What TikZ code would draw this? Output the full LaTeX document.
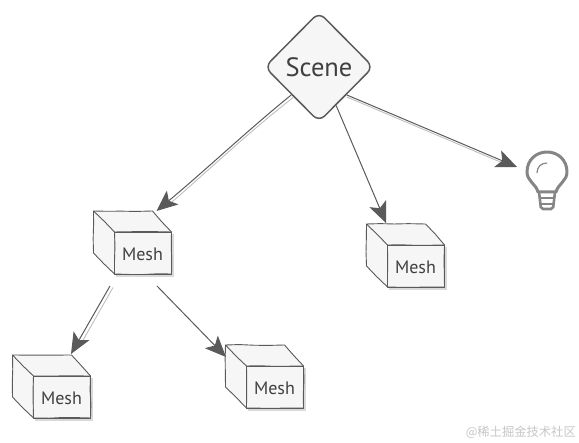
\documentclass[tikz,border=0pt]{standalone}
\usepackage{fontspec}
\setmainfont{PT Sans}
\newfontfamily\cjkfont{Noto Sans CJK SC}
\usetikzlibrary{arrows.meta,shapes.geometric,decorations.pathmorphing}
\definecolor{facefill}{HTML}{F6F6F6}
\definecolor{inkline}{HTML}{5A5A5A}
\definecolor{inktext}{HTML}{404040}
\definecolor{bulbline}{HTML}{858585}
\tikzset{
  sketchy/.style={decorate,decoration={random steps,segment length=14pt,amplitude=0.5pt}},
  meshface/.style={draw=inkline,fill=facefill,line width=0.9pt,line join=round},
  meshfront/.style={meshface,minimum width=57,minimum height=42,inner sep=0pt,outer sep=0pt,text=inktext},
  link/.style={draw=inkline,line width=1pt,-{Stealth[length=21pt,width=18pt,inset=5pt]}},
  linkghost/.style={draw=gray!50,line width=0.9pt},
}
% front face centre at (#2,#3), (#1 top) is where an arrow lands on the cube
\newcommand{\meshcube}[3]{
  \draw[gray!30,line width=2pt] (#2-27,#3+23) -- (#2+30,#3+23) -- (#2+30,#3-19);
  \node[meshfront] (#1) at (#2,#3) {};
  \fill[facefill] (#1.north west) -- ++(-21,-21) -- ++(0,42) -- (#1.south west) -- cycle;
  \fill[facefill] (#1.north west) -- ++(-21,-21) -- ++(59,0) -- (#1.north east) -- cycle;
  \draw[meshface,fill=none,sketchy] (#1.north west) -- (#1.north east) -- (#1.south east) -- (#1.south west) -- cycle;
  \draw[meshface,fill=none,sketchy] (#1.north west) -- ++(-21,-21) -- ++(59,0) -- (#1.north east);
  \draw[meshface,fill=none,sketchy] (#1.north west) ++(-21,-21) -- ++(0,42) -- (#1.south west);
  \node[text=inktext,font=\fontsize{18}{18}\selectfont] at (#2-0.5,#3+1) {Mesh};
  \coordinate (#1 top) at ([shift={(-15,-21)}]#1.north east);
}
\begin{document}
\begin{tikzpicture}[x=1pt,y=-1pt]
\useasboundingbox (0,0) rectangle (579,443);

\node[diamond,aspect=1,draw=inkline,fill=facefill,line width=1.5pt,rounded corners=8pt,minimum width=109,minimum height=110,inner sep=0pt,text=inktext,font=\fontsize{26.5}{26.5}\selectfont] (scene) at (319,67) {Scene};

\meshcube{meshA}{143}{253}
\meshcube{meshB}{416}{266}
\meshcube{meshC}{62}{397}
\meshcube{meshD}{275}{387}

% bulb
\node[minimum width=40,minimum height=58,inner sep=0pt] (bulb) at (547,181) {};
\coordinate (bulb tip) at (517,167);
\coordinate (meshA left) at (110,286);
\coordinate (meshA right) at (157,286);
\coordinate (meshB top2) at (386,223);
\coordinate (meshD side) at (226,357);
\coordinate (meshC top2) at (71,354);
\draw[bulbline,line width=3pt,line join=round] (538,192) .. controls (536,184) and (527,181) .. (527,172) .. controls (527,160) and (536,152) .. (547,152) .. controls (558,152) and (567,160) .. (567,172) .. controls (567,181) and (558,184) .. (556,192) -- cycle;
\draw[bulbline,line width=2.6pt,line cap=round,rounded corners=2pt] (539,192) -- (541,209) -- (553,209) -- (555,192);
\draw[bulbline,line width=2pt] (540,198) -- (554,198) (541,204) -- (553,204);
\draw[bulbline,line width=1.2pt] (537,173) .. controls (537,167) and (541,163) .. (547,163);

% links
\draw[linkghost] ([shift={(2,2.5)}]scene.south west) .. controls (250,131) and (210,169) .. ([shift={(12,-6)}]meshA top);
\draw[link] (scene.south west) .. controls (248,130) and (208,168) .. (meshA top);
\draw[link] (scene.-66) -- (meshB top2);
\draw[linkghost] ([shift={(0,2)}]scene.south east) -- ([shift={(-12,-3)}]bulb tip);
\draw[link] (scene.south east) -- (bulb tip);
\draw[linkghost] ([shift={(3,1.5)}]meshA left) -- ([shift={(11,-12)}]meshC top2);
\draw[link] (meshA left) -- (meshC top2);
\draw[link] (meshA right) -- (meshD side);

\node[text=gray!45,font=\cjkfont\fontsize{12.3}{12.3}\selectfont,anchor=east,inner sep=0pt] (mark) at (576,432) {@稀土掘金技术社区};
\end{tikzpicture}
\end{document}
